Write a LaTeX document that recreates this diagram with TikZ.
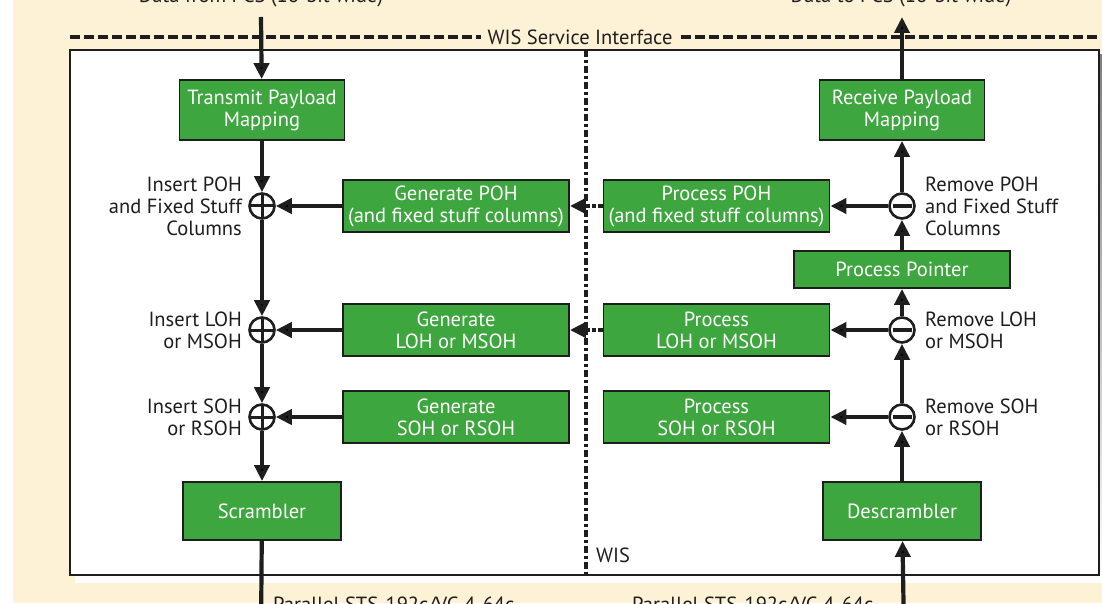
\documentclass[tikz,border=0pt]{standalone}
\usepackage{fontspec}
\setmainfont{PT Sans}
\usetikzlibrary{positioning,arrows.meta}
\definecolor{wisgreen}{RGB}{62,166,62}
\definecolor{paper}{RGB}{254,242,214}
\definecolor{shade}{RGB}{162,152,136}
\definecolor{ink}{RGB}{30,30,30}

\begin{document}
\begin{tikzpicture}[x=1pt, y=1pt, on grid, auto,
  font=\fontsize{20.5}{22}\selectfont,
  block/.style={draw=ink, line width=1.8pt, fill=wisgreen, text=white, align=center, inner sep=0pt},
  pmap/.style={block, minimum width=165pt, minimum height=60pt},
  scbox/.style={block, minimum width=158pt, minimum height=58pt},
  ohbox/.style={block, minimum width=226pt, minimum height=52pt},
  sumop/.style={circle, draw=ink, fill=white, line width=2.6pt, minimum size=25pt, inner sep=0pt},
  insop/.style={sumop, path picture={
    \draw[ink, line width=3pt] (path picture bounding box.west) -- (path picture bounding box.east)
      (path picture bounding box.north) -- (path picture bounding box.south);}},
  remop/.style={sumop, path picture={
    \draw[ink, line width=3.5pt] ([xshift=3pt]path picture bounding box.west) -- ([xshift=-3pt]path picture bounding box.east);}},
  ohl/.style={inner sep=0pt, text=ink, align=right, anchor=east},
  ohr/.style={inner sep=0pt, text=ink, align=left, anchor=west},
  flow/.style={draw=ink, line width=4.2pt, -{Triangle[width=15pt,length=16pt]}},
  xfer/.style={flow, dotted}]

  % page and WIS frame
  \useasboundingbox (0,0) rectangle (1102,603);
  \fill[paper] (13,0) rectangle (1102,603);
  \fill[shade] (75,21) rectangle (1104,548);
  \draw[ink, line width=2.5pt, fill=white] (70,28) rectangle (1099,553);
  \node[text=ink, inner xsep=0pt] (wsi) at (580,566) {WIS Service Interface};
  \draw[ink, line width=3.5pt, dash pattern=on 10pt off 4pt]
    (70,566) -- ([xshift=-6pt]wsi.west) ([xshift=8pt]wsi.east) -- (1097,566);
  \draw[ink, line width=3.5pt, dash pattern=on 7pt off 3pt on 3pt off 3pt] (586,553) -- (586,28);
  \node[ohr] (wis) at (596,48) {WIS};

  % transmit side
  \node[pmap] (tpm) at (262,493) {Transmit Payload\\Mapping};
  \node[insop, below=96pt of tpm] (ipoh) {};
  \node[insop, below=124pt of ipoh] (iloh) {};
  \node[insop, below=87pt of iloh] (isoh) {};
  \node[scbox, below=94pt of isoh] (scr) {Scrambler};
  \node[left=20pt of ipoh, ohl] (lipoh) {Insert POH\\and Fixed Stuff\\Columns};
  \node[left=20pt of iloh, ohl] (liloh) {Insert LOH\\or MSOH};
  \node[left=20pt of isoh, ohl] (lisoh) {Insert SOH\\or RSOH};
  \node[ohbox, right=194pt of ipoh] (gpoh) {Generate POH\\(and fixed stuff columns)};
  \node[ohbox, right=194pt of iloh] (gloh) {Generate\\LOH or MSOH};
  \node[ohbox, right=194pt of isoh] (gsoh) {Generate\\SOH or RSOH};

  % receive side
  \node[pmap] (rpm) at (902,493) {Receive Payload\\Mapping};
  \node[remop, below=96pt of rpm] (rpoh) {};
  \node[block, minimum width=216pt, minimum height=37pt, below=63.5pt of rpoh] (ptr) {Process Pointer};
  \node[remop, below=124pt of rpoh] (rloh) {};
  \node[remop, below=87pt of rloh] (rsoh) {};
  \node[scbox, below=94pt of rsoh] (dscr) {Descrambler};
  \node[right=23pt of rpoh, ohr] (lrpoh) {Remove POH\\and Fixed Stuff\\Columns};
  \node[right=23pt of rloh, ohr] (lrloh) {Remove LOH\\or MSOH};
  \node[right=23pt of rsoh, ohr] (lrsoh) {Remove SOH\\or RSOH};
  \node[ohbox, left=185.5pt of rpoh] (ppoh) {Process POH\\(and fixed stuff columns)};
  \node[ohbox, left=185.5pt of rloh] (ploh) {Process\\LOH or MSOH};
  \node[ohbox, left=185.5pt of rsoh] (psoh) {Process\\SOH or RSOH};

  % PCS and line side
  \coordinate (pcsin) at (261,586);
  \coordinate (pcsout) at (902,586);
  \coordinate (lineout) at (261,-30);
  \coordinate (linein) at (904,-30);
  \node[text=ink, anchor=base] (din) at (261,600) {Data from PCS (16-bit wide)};
  \node[text=ink, anchor=base] (dout) at (901,600) {Data to PCS (16-bit wide)};
  \node[text=ink, inner sep=0pt, anchor=north west] (lnout) at (273,6) {Parallel STS-192c/VC-4-64c};
  \node[text=ink, inner sep=0pt, anchor=north west] (lnin) at (632,6) {Parallel STS-192c/VC-4-64c};

  \path[flow]
    (pcsin) edge (tpm)
    (tpm) edge (ipoh)
    (ipoh) edge (iloh)
    (iloh) edge (isoh)
    (isoh) edge (scr)
    (scr) edge (lineout)
    (gpoh) edge (ipoh)
    (gloh) edge (iloh)
    (gsoh) edge (isoh)
    (linein) edge (dscr)
    (dscr) edge (rsoh)
    (rsoh) edge (rloh)
    (rloh) edge (ptr)
    (ptr) edge (rpoh)
    (rpoh) edge (rpm)
    (rpm) edge (pcsout)
    (rpoh) edge (ppoh)
    (rloh) edge (ploh)
    (rsoh) edge (psoh)
    (ppoh) edge[xfer] (gpoh)
    (ploh) edge[xfer] (gloh);
\end{tikzpicture}
\end{document}
